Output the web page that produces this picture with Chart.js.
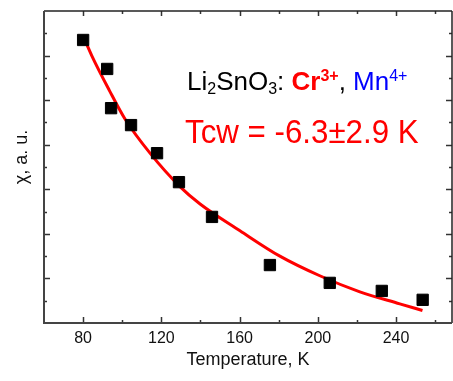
<!DOCTYPE html>
<html>
<head>
<meta charset="utf-8">
<script src="https://cdn.jsdelivr.net/npm/chart.js@4/dist/chart.umd.min.js"></script>
<style>
  html, body { margin: 0; padding: 0; background: #fff; }
  #wrap { width: 453px; height: 381px; }
</style>
</head>
<body>
<div id="wrap"><canvas id="chiChart" width="453" height="381"></canvas></div>
<script>
// measured points (temperature in K, chi in arbitrary units)
const tempPoints = [80, 92.3, 94.3, 104.5, 117.8, 129, 145.9, 175.5, 206.1, 232.7, 253.6];
const chiPoints  = [6.35, 5.70, 4.82, 4.44, 3.81, 3.16, 2.38, 1.30, 0.90, 0.72, 0.52];

// Curie-Weiss fit curve
const fitTemp = [80.2, 84.4, 93.4, 101.5, 114.2, 129.5, 139.8, 160.2, 180.6, 201.0, 221.5, 241.9, 253.5];
const fitChi  = [6.42, 6.00, 5.22, 4.57, 3.81, 3.06, 2.67, 2.07, 1.50, 1.06, 0.70, 0.43, 0.28];

// axis ticks
const xMajorTicks = [80, 120, 160, 200, 240];
const xMinorTicks = [100, 140, 180, 220, 260];
const yMajorTicks = [1, 2, 3, 4, 5, 6];
const yMinorTicks = [0.5, 1.5, 2.5, 3.5, 4.5, 5.5, 6.5];

const FONT = '"Liberation Sans", Arial, Helvetica, sans-serif';

// frame with inward ticks on all four sides
const framePlugin = {
  id: 'frame',
  afterDraw(chart) {
    const ctx = chart.ctx;
    const a = chart.chartArea;
    const xs = chart.scales.x, ys = chart.scales.y;
    ctx.save();
    ctx.strokeStyle = '#333';
    ctx.lineWidth = 1.5;
    const tick = (x1, y1, x2, y2) => { ctx.beginPath(); ctx.moveTo(x1, y1); ctx.lineTo(x2, y2); ctx.stroke(); };
    xMajorTicks.forEach(v => {
      const px = Math.round(xs.getPixelForValue(v)) + 0.5;
      tick(px, a.bottom, px, a.bottom - 6);
      tick(px, a.top, px, a.top + 5);
    });
    xMinorTicks.forEach(v => {
      if (v > xs.max) return;
      const px = Math.round(xs.getPixelForValue(v)) + 0.5;
      tick(px, a.bottom, px, a.bottom - 3);
      tick(px, a.top, px, a.top + 3);
    });
    yMajorTicks.forEach(v => {
      const py = Math.round(ys.getPixelForValue(v)) + 0.5;
      tick(a.left, py, a.left + 6, py);
      tick(a.right, py, a.right - 6, py);
    });
    yMinorTicks.forEach(v => {
      const py = Math.round(ys.getPixelForValue(v)) + 0.5;
      tick(a.left, py, a.left + 3, py);
      tick(a.right, py, a.right - 3, py);
    });
    // box
    ctx.lineWidth = 1.5;
    ctx.strokeStyle = '#222';
    tick(a.left, a.top, a.right, a.top);
    tick(a.right, a.top, a.right, a.bottom);
    ctx.lineWidth = 2;
    ctx.strokeStyle = '#444';
    tick(a.left, a.top, a.left, a.bottom + 1);
    tick(a.left - 1, a.bottom, a.right, a.bottom);
    ctx.restore();
  }
};

// draws a run of text pieces one after another
function drawRuns(ctx, x, y, runs) {
  runs.forEach(r => {
    ctx.font = r.font;
    ctx.fillStyle = r.color;
    ctx.fillText(r.text, x, y + (r.dy || 0));
    x += ctx.measureText(r.text).width + (r.gap || 0);
  });
}

const labelPlugin = {
  id: 'labels',
  afterDraw(chart) {
    const ctx = chart.ctx;
    ctx.save();
    ctx.textBaseline = 'alphabetic';
    ctx.textAlign = 'left';
    const big = '26px ' + FONT, small = '16px ' + FONT;
    drawRuns(ctx, 187, 89.5, [
      { text: 'Li', font: big, color: '#000' },
      { text: '2', font: small, color: '#000', dy: 4 },
      { text: 'SnO', font: big, color: '#000' },
      { text: '3', font: small, color: '#000', dy: 4 },
      { text: ': ', font: big, color: '#000' },
      { text: 'Cr', font: 'bold ' + big, color: '#ff0000' },
      { text: '3+', font: 'bold ' + small, color: '#ff0000', dy: -9 },
      { text: ', ', font: big, color: '#000' },
      { text: 'Mn', font: big, color: '#0000ff' },
      { text: '4+', font: small, color: '#0000ff', dy: -9 }
    ]);

    // y axis title
    ctx.save();
    ctx.translate(27, 157);
    ctx.rotate(-Math.PI / 2);
    ctx.textAlign = 'center';
    ctx.font = '18px ' + FONT;
    ctx.fillStyle = '#111';
    ctx.fillText('\u03c7, a. u.', 0, 0);
    ctx.restore();

    // fit result, slightly condensed like the original
    ctx.translate(185, 142.5);
    ctx.scale(0.92, 1);
    ctx.font = '34px ' + FONT;
    ctx.fillStyle = '#ff0000';
    ctx.fillText('Tcw = -6.3\u00b12.9 K', 0, 0);
    ctx.restore();
  }
};

const ctx = document.getElementById('chiChart').getContext('2d');
new Chart(ctx, {
  type: 'scatter',
  data: {
    datasets: [
      {
        label: 'data',
        data: tempPoints.map((t, i) => ({ x: t, y: chiPoints[i] })),
        pointStyle: 'rect',
        pointRadius: 8,
        backgroundColor: '#000',
        borderColor: '#000',
        borderWidth: 1,
        showLine: false
      },
      {
        label: 'fit',
        data: fitTemp.map((t, i) => ({ x: t, y: fitChi[i] })),
        showLine: true,
        pointRadius: 0,
        borderColor: '#ff0000',
        borderWidth: 3,
        cubicInterpolationMode: 'monotone',
        fill: false
      }
    ]
  },
  options: {
    responsive: false,
    animation: false,
    layout: { autoPadding: false, padding: { top: 11, right: 1, left: 0, bottom: 0 } },
    plugins: {
      legend: { display: false },
      tooltip: { enabled: false }
    },
    scales: {
      x: {
        type: 'linear',
        min: 60,
        max: 268.6,
        afterFit(scale) {
          scale.height = 58;
          scale.paddingLeft = 0;
          scale.paddingRight = 0;
        },
        afterBuildTicks(scale) { scale.ticks = xMajorTicks.map(v => ({ value: v })); },
        grid: { display: false, drawTicks: false },
        border: { display: false },
        ticks: {
          color: '#111',
          padding: 6,
          font: { family: FONT, size: 16 }
        },
        title: {
          display: true,
          text: 'Temperature, K',
          color: '#111',
          padding: { top: 0, bottom: 10 },
          font: { family: FONT, size: 18 }
        }
      },
      y: {
        type: 'linear',
        min: 0,
        max: 7,
        afterFit(scale) {
          scale.width = 44;
          scale.paddingTop = 0;
          scale.paddingBottom = 0;
        },
        grid: { display: false, drawTicks: false },
        border: { display: false },
        ticks: { display: false },
        title: { display: false }
      }
    }
  },
  plugins: [framePlugin, labelPlugin]
});
</script>
</body>
</html>
